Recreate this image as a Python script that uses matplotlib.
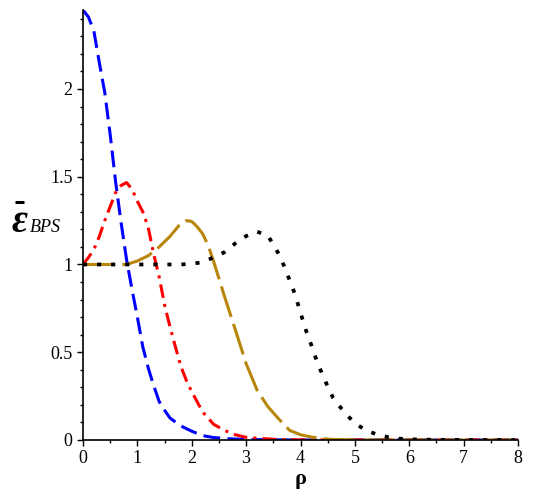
import matplotlib
matplotlib.use('Agg')
import matplotlib.pyplot as plt
from matplotlib import font_manager
from matplotlib.font_manager import FontProperties
from matplotlib.lines import Line2D
from matplotlib.ticker import MultipleLocator


def serif_font(style='normal', weight='normal', size=12):
    # pick the Liberation Serif face directly from the font list
    want_bold = weight == 'bold'
    want_italic = style == 'italic'
    for f in font_manager.fontManager.ttflist:
        if f.name != 'Liberation Serif':
            continue
        is_bold = f.weight in ('bold', 700) or (isinstance(f.weight, int) and f.weight >= 600)
        is_italic = f.style in ('italic', 'oblique')
        if is_bold == want_bold and is_italic == want_italic:
            return FontProperties(fname=f.fname, size=size)
    return FontProperties(family='serif', style=style, weight=weight, size=size)


# energy density profiles, one per winding number
rho_blue = [0, 0.1, 0.2, 0.3, 0.4, 0.5, 0.6, 0.7, 0.8, 0.9, 1.0, 1.1, 1.2, 1.3, 1.4,
            1.5, 1.6, 1.8, 2.0, 2.2, 2.4, 2.7, 3.0, 3.5, 4, 5, 6, 7, 8]
e_blue = [2.45, 2.41, 2.33, 2.15, 1.98, 1.74, 1.47, 1.24, 1.03, 0.86, 0.70, 0.53, 0.41,
          0.31, 0.22, 0.17, 0.125, 0.08, 0.05, 0.025, 0.014, 0.007, 0.003, 0.001, 0, 0, 0, 0, 0]

rho_red = [0, 0.1, 0.2, 0.3, 0.4, 0.5, 0.6, 0.7, 0.8, 0.9, 1.0, 1.1, 1.2, 1.3, 1.4, 1.5,
           1.6, 1.7, 1.8, 1.9, 2.0, 2.2, 2.4, 2.6, 2.8, 3.0, 3.5, 4, 8]
e_red = [1.0, 1.04, 1.085, 1.16, 1.25, 1.33, 1.41, 1.45, 1.467, 1.43, 1.36, 1.30, 1.21,
         1.06, 0.93, 0.77, 0.645, 0.53, 0.42, 0.34, 0.275, 0.16, 0.09, 0.055, 0.03, 0.015,
         0.004, 0.001, 0]

rho_gold = [0, 0.5, 0.8, 1.0, 1.2, 1.4, 1.6, 1.8, 1.9, 2.0, 2.1, 2.2, 2.3, 2.4, 2.5, 2.6,
            2.8, 3.0, 3.2, 3.4, 3.6, 3.8, 4.0, 4.2, 4.4, 4.6, 5, 6, 8]
e_gold = [1, 1, 1.0, 1.02, 1.05, 1.10, 1.16, 1.235, 1.25, 1.245, 1.215, 1.175, 1.11, 1.02,
          0.92, 0.82, 0.63, 0.435, 0.285, 0.19, 0.12, 0.055, 0.03, 0.017, 0.008, 0.003,
          0.001, 0, 0]

rho_black = [0, 1.0, 1.8, 2.0, 2.2, 2.4, 2.6, 2.8, 3.0, 3.2, 3.4, 3.6, 3.7, 3.8, 3.9, 4.0,
             4.1, 4.2, 4.3, 4.4, 4.5, 4.6, 4.7, 4.8, 5.0, 5.2, 5.4, 5.6, 5.8, 6.0, 6.5, 7, 8]
e_black = [1, 1, 1, 1.004, 1.013, 1.04, 1.07, 1.12, 1.162, 1.187, 1.165, 1.06, 0.99, 0.91,
           0.83, 0.725, 0.625, 0.54, 0.45, 0.375, 0.305, 0.24, 0.20, 0.16, 0.095, 0.056,
           0.032, 0.017, 0.008, 0.004, 0.001, 0, 0]

x_ticks = [0, 1, 2, 3, 4, 5, 6, 7, 8]
y_ticks = [0, 0.5, 1, 1.5, 2]
y_tick_labels = ['0', '0.5', '1', '1.5', '2']

fig = plt.figure(figsize=(5.37, 4.92), dpi=100)
ax = fig.add_axes([83 / 537, 52 / 492, 435 / 537, 430 / 492])

ax.plot(rho_blue, e_blue, color='#0000ff', lw=2.2, linestyle=(0, (5.5, 2.4)))
ax.plot(rho_red, e_red, color='#ff0000', lw=2.2, linestyle=(0, (4.5, 2.0, 1.0, 2.0)))
ax.plot(rho_gold, e_gold, color='#b8860b', lw=2.2, linestyle=(0, (10.5, 2.4)))
ax.plot(rho_black, e_black, color='black', lw=2.7, linestyle=(0, (1.1, 2.65)),
        dash_capstyle='butt')

ax.set_xlim(0, 8)
ax.set_ylim(0, 2.45)
ax.spines['top'].set_visible(False)
ax.spines['right'].set_visible(False)
ax.spines['left'].set_linewidth(1.2)
ax.spines['bottom'].set_linewidth(1.2)

tick_font = serif_font(size=13)
ax.set_xticks(x_ticks)
ax.set_xticklabels([str(t) for t in x_ticks], fontproperties=tick_font)
ax.set_yticks(y_ticks)
ax.set_yticklabels(y_tick_labels, fontproperties=tick_font)
ax.xaxis.set_minor_locator(MultipleLocator(0.5))
ax.yaxis.set_minor_locator(MultipleLocator(0.1))
ax.tick_params(which='major', direction='out', length=4.5, width=1, pad=3)
ax.tick_params(which='minor', direction='out', length=2.5, width=1)

ax.set_xlabel('ρ', fontproperties=serif_font(weight='bold', size=16), labelpad=1)

# y label: barred epsilon with BPS subscript
fig.text(12 / 537, 1 - 222 / 492, 'ε', fontproperties=serif_font('italic', 'bold', 28),
         ha='left', va='center')
fig.add_artist(Line2D([15 / 537, 23.5 / 537], [1 - 202 / 492, 1 - 202 / 492],
                      transform=fig.transFigure, color='black', lw=2.2,
                      solid_capstyle='butt'))
fig.text(30 / 537, 1 - 227 / 492, 'BPS', fontproperties=serif_font('italic', size=13),
         ha='left', va='center')

fig.savefig('out.png', dpi=100)
